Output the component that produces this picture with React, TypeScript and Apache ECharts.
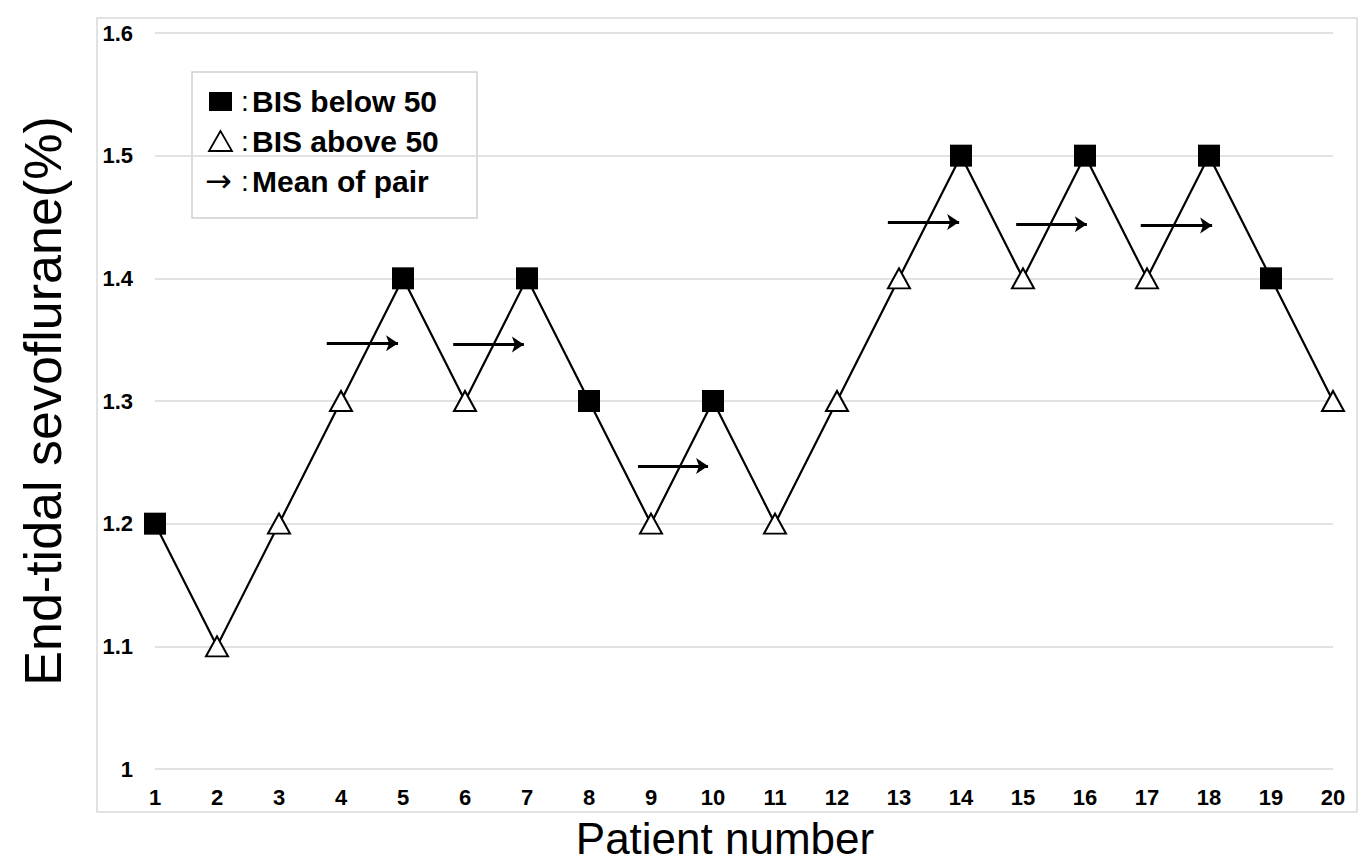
import React, { useEffect, useRef } from "react";
import * as echarts from "echarts";

const patients = [1, 2, 3, 4, 5, 6, 7, 8, 9, 10, 11, 12, 13, 14, 15, 16, 17, 18, 19, 20];
const etSevoflurane = [1.2, 1.1, 1.2, 1.3, 1.4, 1.3, 1.4, 1.3, 1.2, 1.3, 1.2, 1.3, 1.4, 1.5, 1.4, 1.5, 1.4, 1.5, 1.4, 1.3];
// true = BIS below 50 (filled square), false = BIS above 50 (open triangle)
const bisBelow50 = [true, false, false, false, true, false, true, true, false, true, false, false, false, true, false, true, false, true, true, false];

// Mean-of-pair arrows
const pairMean = [1.347, 1.346, 1.247, 1.446, 1.444, 1.443];
const arrowStart = [3.77, 5.81, 8.79, 12.82, 14.89, 16.9];
const arrowEnd = [4.92, 6.95, 9.92, 13.97, 16.03, 18.05];

const legendLabels = ["BIS below 50", "BIS above 50", "Mean of pair"];
const xTitle = "Patient number";
const yTitle = "End-tidal sevoflurane(%)";

const FONT = "Liberation Sans, Arial, Helvetica, sans-serif";

export default function App() {
  const ref = useRef<HTMLDivElement>(null);
  useEffect(() => {
    if (!ref.current) return;
    const chart = echarts.init(ref.current, null, { renderer: "svg" });

    const points = patients.map((p, i) => ({
      value: [p, etSevoflurane[i]],
      symbol: bisBelow50[i] ? "rect" : "triangle",
      symbolSize: bisBelow50[i] ? [22, 22] : [22, 20],
      itemStyle: bisBelow50[i]
        ? { color: "#000", borderColor: "#000", borderWidth: 0 }
        : { color: "#fff", borderColor: "#000", borderWidth: 2 },
    }));

    const arrows = pairMean.map((y, i) => ({
      coords: [
        [arrowStart[i], y],
        [arrowEnd[i], y],
      ],
    }));

    const rowY = [101, 141, 181];

    chart.setOption({
      animation: false,
      backgroundColor: "#fff",
      grid: { left: 155, right: 38, top: 33, bottom: 93, containLabel: false, outerBoundsMode: "none" },
      xAxis: {
        type: "value",
        min: 1,
        max: 20,
        interval: 1,
        axisLine: { show: false },
        axisTick: { show: false },
        splitLine: { show: false },
        axisLabel: { color: "#000", fontWeight: "bold", fontSize: 22, fontFamily: FONT, margin: 17 },
        name: xTitle,
        nameLocation: "middle",
        nameGap: 47,
        nameTextStyle: { color: "#000", fontSize: 44, fontFamily: FONT, padding: [0, 38, 0, 0] },
      },
      yAxis: {
        type: "value",
        min: 1,
        max: 1.6,
        interval: 0.1,
        axisLine: { show: false },
        axisTick: { show: false },
        splitLine: { show: true, lineStyle: { color: "#d9d9d9", width: 1.5 } },
        axisLabel: { color: "#000", fontWeight: "bold", fontSize: 22, fontFamily: FONT, margin: 22 },
        name: yTitle,
        nameLocation: "middle",
        nameGap: 86,
        nameTextStyle: { color: "#000", fontSize: 52, fontFamily: FONT },
      },
      series: [
        {
          type: "line",
          data: points,
          lineStyle: { color: "#000", width: 2.2 },
          z: 3,
        },
        {
          type: "lines",
          coordinateSystem: "cartesian2d",
          data: arrows,
          symbol: ["none", "arrow"],
          symbolSize: [11, 12],
          lineStyle: { color: "#000", width: 3, opacity: 1 },
          z: 4,
        },
      ],
      graphic: [
        {
          type: "rect",
          shape: { x: 97, y: 18, width: 1260, height: 794 },
          style: { fill: "none", stroke: "#d9d9d9", lineWidth: 1.5 },
          silent: true,
          z: 0,
        },
        {
          type: "group",
          z: 100,
          children: [
            {
              type: "rect",
              shape: { x: 192, y: 72, width: 285, height: 146 },
              style: { fill: "#fff", stroke: "#cfcfcf", lineWidth: 1.5 },
            },
            {
              type: "rect",
              shape: { x: 209, y: 92, width: 23, height: 19 },
              style: { fill: "#000" },
            },
            {
              type: "polygon",
              shape: { points: [[220.5, 131], [209, 151], [232, 151]] },
              style: { fill: "#fff", stroke: "#000", lineWidth: 1.8 },
            },
            {
              type: "text",
              x: 205,
              y: rowY[2],
              style: { text: "→", fontSize: 32, fontFamily: "DejaVu Sans", fill: "#000", verticalAlign: "middle", align: "left" },
            },
            ...rowY.map((y) => ({
              type: "text",
              x: 241,
              y: y,
              style: { text: ":", fontSize: 28, fontFamily: FONT, fill: "#000", verticalAlign: "middle", align: "left" },
            })),
            ...legendLabels.map((t, i) => ({
              type: "text",
              x: 252,
              y: rowY[i],
              style: { text: t, fontSize: 30, fontWeight: "bold", fontFamily: FONT, fill: "#000", verticalAlign: "middle", align: "left" },
            })),
          ],
        },
      ],
    });
    return () => chart.dispose();
  }, []);
  return <div ref={ref} style={{ position: "fixed", left: 0, top: 0, width: 1371, height: 862 }} />;
}
